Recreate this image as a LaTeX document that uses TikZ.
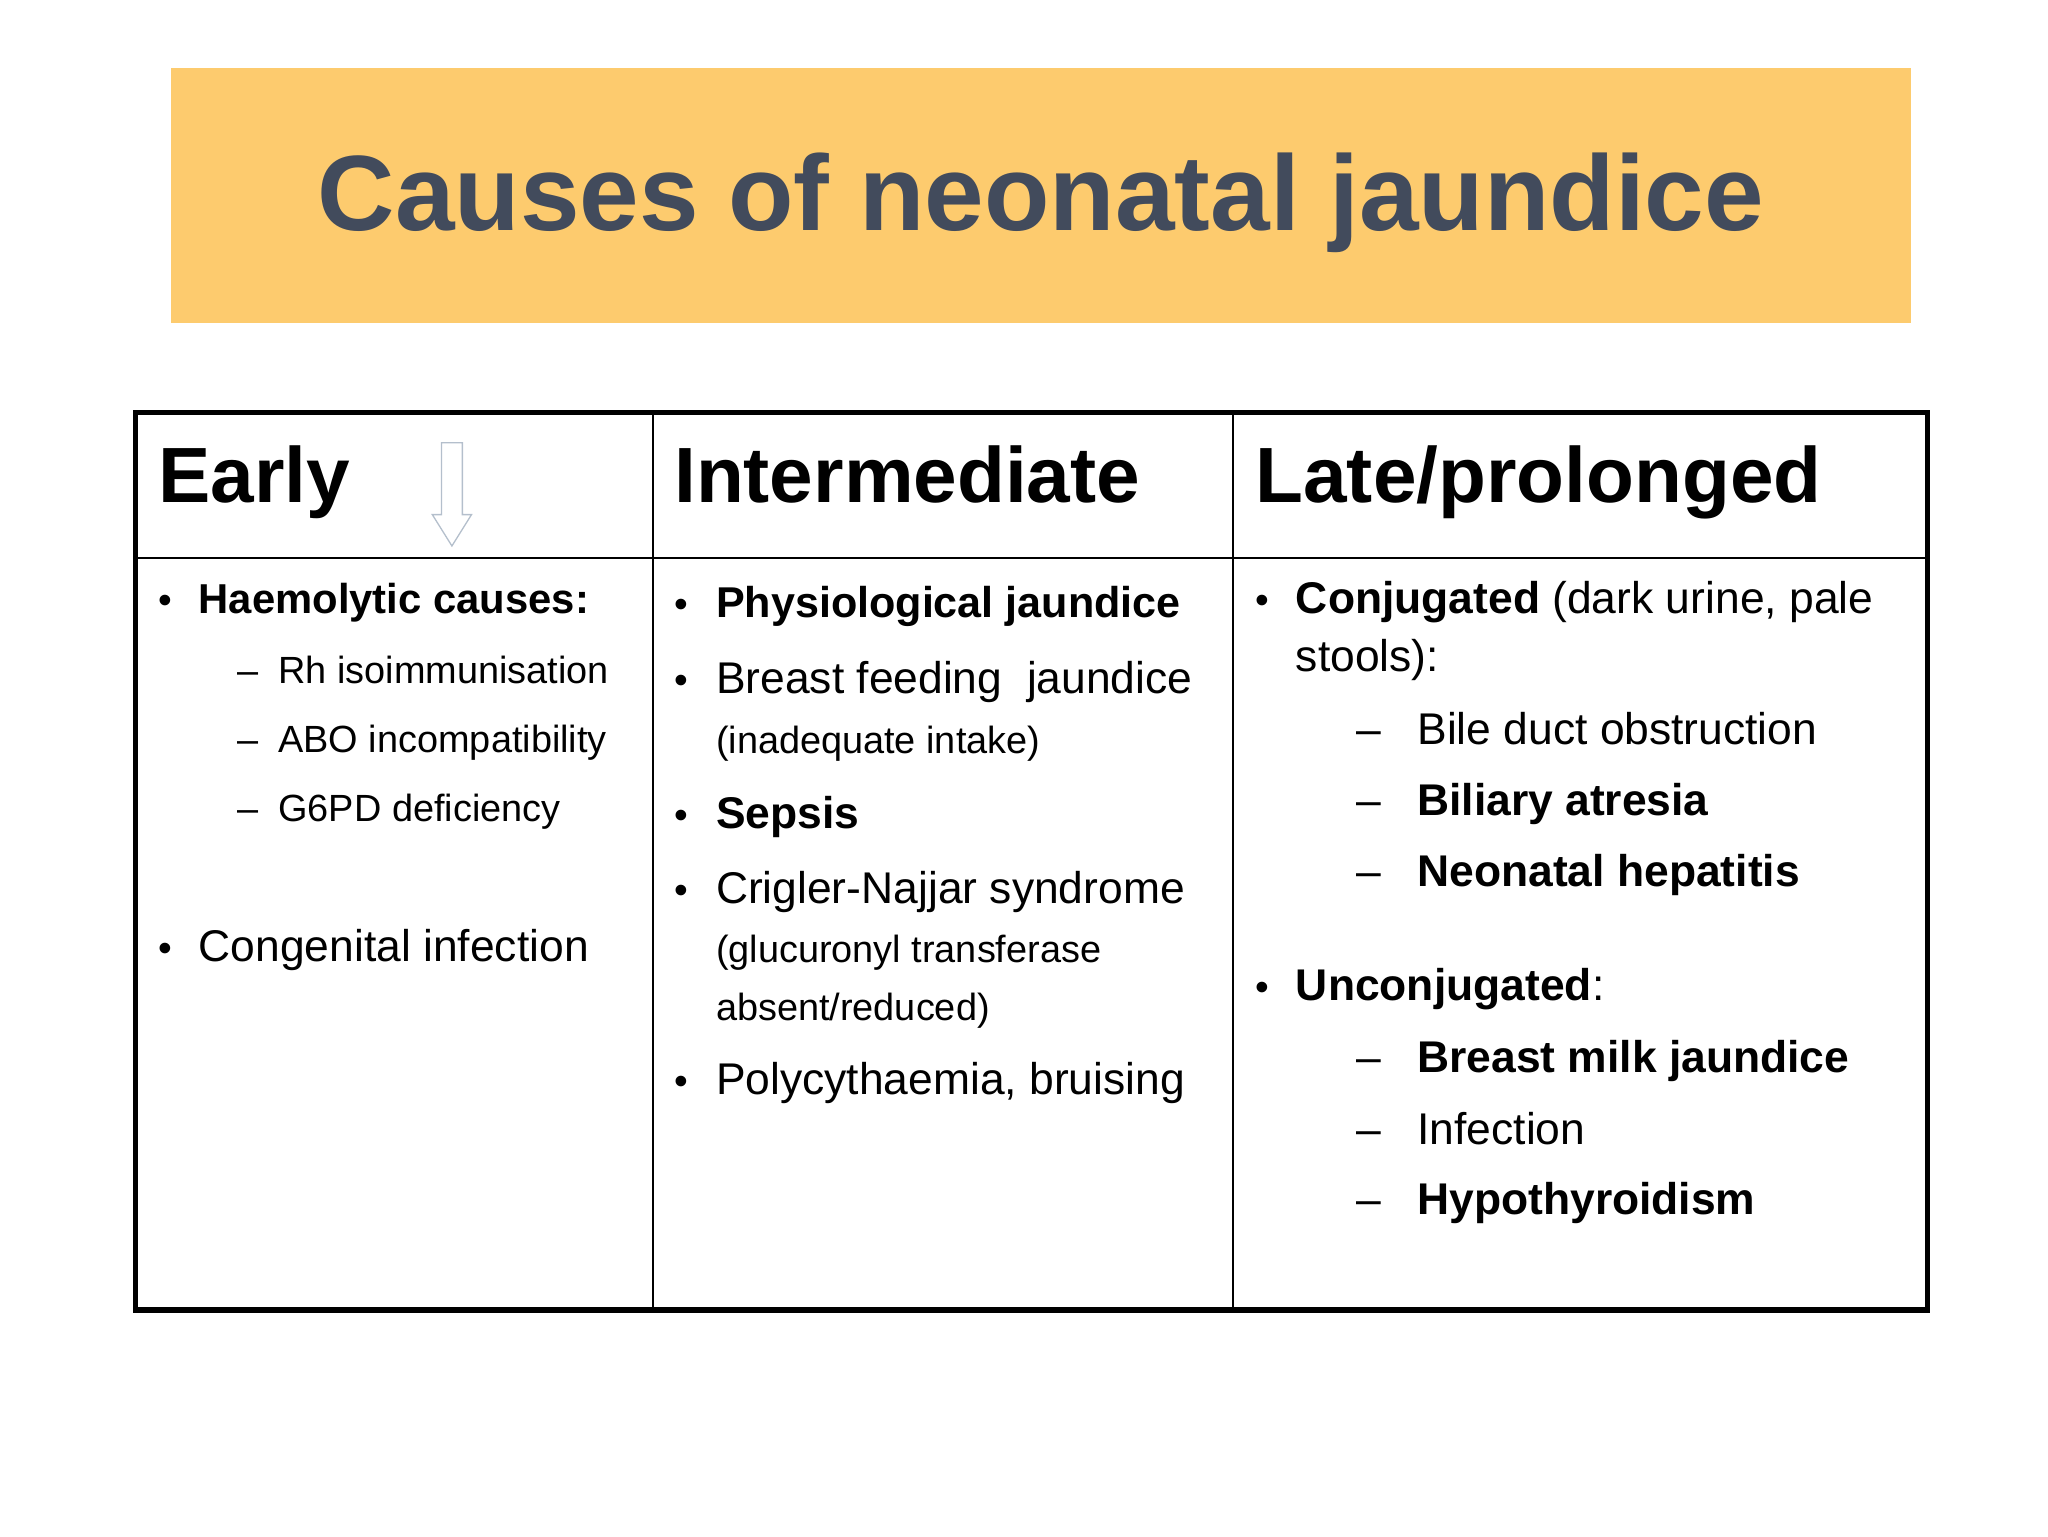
\documentclass[tikz,border=0pt]{standalone}
\usepackage{fontspec}
\setmainfont{Liberation Sans}
\usetikzlibrary{shapes.arrows}
\definecolor{titlebg}{HTML}{FDCB6E}
\definecolor{titlefg}{HTML}{424B5C}
\definecolor{arrowc}{HTML}{B4BFCC}
\tikzset{
 x=1pt,y=-1pt,
 hd/.style={anchor=base west,inner sep=0pt,font=\fontsize{60}{70}\selectfont\bfseries},
 tx/.style={anchor=base west,inner sep=0pt,font=\fontsize{34}{40}\selectfont},
 sm/.style={anchor=base west,inner sep=0pt,font=\fontsize{29}{34}\selectfont},
 bl/.style={anchor=base west,inner sep=0pt,font=\fontsize{30}{36}\selectfont},
}
\begin{document}
\begin{tikzpicture}
\useasboundingbox (0,0) rectangle (1568,1176);
\fill[titlebg] (131,52) rectangle (1463,247);
\node[inner sep=0pt,text=titlefg,font=\fontsize{82}{90}\selectfont\bfseries] (title) at (797,155) {Causes of neonatal jaundice};
% table
\draw[line width=1.5pt] (104,427) -- (1476,427);
\draw[line width=1.5pt] (500,316) -- (500,1003);
\draw[line width=1.5pt] (944,316) -- (944,1003);
\draw[line width=4pt] (104,316) rectangle (1476,1003);
\node[hd] (h1) at (121,385) {Early};
\node[hd] (h2) at (516,385) {Intermediate};
\node[hd] (h3) at (961,385) {Late/prolonged};
\draw[arrowc,line width=1pt,fill=white] (338,339) -- (354,339) -- (354,394) -- (361,394) -- (346,418) -- (331,394) -- (338,394) -- cycle;
% col1
\node[bl] (b1) at (121,470) {•};
\node[tx,font=\fontsize{32}{40}\selectfont\bfseries] (c1a) at (152,470) {Haemolytic causes:};
\node[sm] (d1) at (182,523) {–}; \node[sm] (c1b) at (213,523) {Rh isoimmunisation};
\node[sm] (d2) at (182,576) {–}; \node[sm] (c1c) at (213,576) {ABO incompatibility};
\node[sm] (d3) at (182,629) {–}; \node[sm] (c1d) at (213,629) {G6PD deficiency};
\node[bl] (b2) at (121,736) {•};
\node[tx] (c1e) at (152,736) {Congenital infection};
% col2
\node[bl] (b3) at (516,473) {•};
\node[tx,font=\fontsize{33}{40}\selectfont\bfseries] (c2a) at (548,473) {Physiological jaundice};
\node[bl] (b4) at (516,531) {•};
\node[tx] (c2b) at (548,531) {Breast feeding\ \ jaundice};
\node[sm] (c2c) at (548,577) {(inadequate intake)};
\node[bl] (b5) at (516,634) {•};
\node[tx,font=\fontsize{34}{40}\selectfont\bfseries] (c2d) at (548,634) {Sepsis};
\node[bl] (b6) at (516,692) {•};
\node[tx] (c2e) at (548,692) {Crigler-Najjar syndrome};
\node[sm] (c2f) at (548,737) {(glucuronyl transferase};
\node[sm] (c2g) at (548,781) {absent/reduced)};
\node[bl] (b7) at (516,838) {•};
\node[tx] (c2h) at (548,838) {Polycythaemia, bruising};
% col3
\node[bl] (b8) at (961,470) {•};
\node[tx] (c3a) at (992,470) {\textbf{Conjugated} (dark urine, pale};
\node[tx] (c3b) at (992,514) {stools):};
\node[tx] (d4) at (1038,570) {–}; \node[tx] (c3c) at (1085,570) {Bile duct obstruction};
\node[tx] (d5) at (1038,624) {–}; \node[tx] (c3d) at (1085,624) {\textbf{Biliary atresia}};
\node[tx] (d6) at (1038,679) {–}; \node[tx] (c3e) at (1085,679) {\textbf{Neonatal hepatitis}};
\node[bl] (b9) at (961,766) {•};
\node[tx] (c3f) at (992,766) {\textbf{Unconjugated}:};
\node[tx] (d7) at (1038,821) {–}; \node[tx] (c3g) at (1085,821) {\textbf{Breast milk jaundice}};
\node[tx] (d8) at (1038,876) {–}; \node[tx] (c3h) at (1085,876) {Infection};
\node[tx] (d9) at (1038,930) {–}; \node[tx] (c3i) at (1085,930) {\textbf{Hypothyroidism}};
\end{tikzpicture}
\end{document}
